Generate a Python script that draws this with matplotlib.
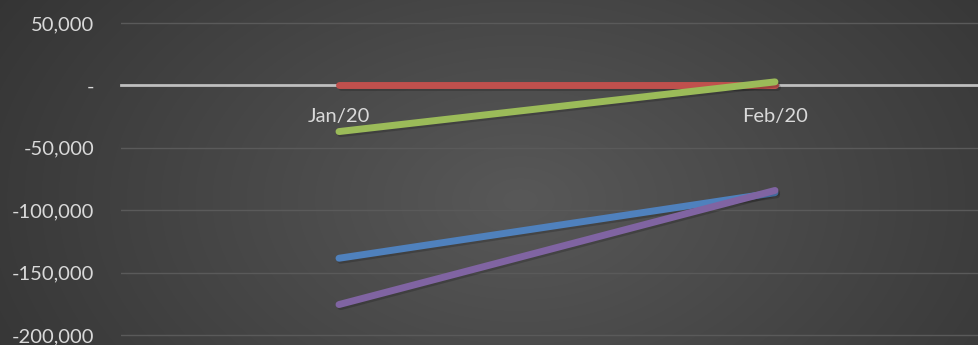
# -*- coding: utf-8 -*-

import numpy as np
import matplotlib
matplotlib.use("Agg")
import matplotlib.pyplot as plt
import matplotlib.patheffects as pe
from matplotlib.ticker import FuncFormatter

# data
months = ["Jan/20", "Feb/20"]
blue_vals = [-138500, -86000]
red_vals = [0, 0]
green_vals = [-37000, 2800]
purple_vals = [-175600, -84200]

series = [
    (blue_vals, "#4F81BD"),
    (red_vals, "#C0504D"),
    (green_vals, "#9BBB59"),
    (purple_vals, "#8064A2"),
]

plt.rcParams["font.family"] = ["Lato", "DejaVu Sans"]

fig = plt.figure(figsize=(9.79, 3.45), dpi=100)

# radial gradient background
bg = fig.add_axes([0, 0, 1, 1])
yy, xx = np.mgrid[0:345, 0:979]
r = np.sqrt(((xx - 520) / 650.0) ** 2 + ((yy - 200) / 420.0) ** 2)
r = np.clip(r, 0, 1)
inner = np.array([0x58, 0x58, 0x58]) / 255.0
outer = np.array([0x32, 0x32, 0x32]) / 255.0
img = inner[None, None, :] * (1 - r[..., None]) + outer[None, None, :] * r[..., None]
bg.imshow(img, aspect="auto", extent=[0, 1, 0, 1])
bg.axis("off")

ax = fig.add_axes([121 / 979, 0, 872 / 979, 1])
ax.set_facecolor("none")

x = np.arange(len(months))
shadow = [pe.SimpleLineShadow(offset=(1.2, -1.5), alpha=0.18, shadow_color="black"), pe.Normal()]
for vals, col in series:
    ax.plot(x, vals, color=col, lw=5, solid_capstyle="round", zorder=3, path_effects=shadow)

ax.set_xlim(-0.5, 1.5)
ax.set_ylim(-208000, 68400)
ax.set_yticks([50000, 0, -50000, -100000, -150000, -200000])


def fmt(v, pos):
    if v == 0:
        return "-"
    return f"{int(v):,}"


ax.yaxis.set_major_formatter(FuncFormatter(fmt))
ax.grid(axis="y", color="#5A5A5A", lw=1)
ax.set_axisbelow(True)

for s in ["top", "right", "left"]:
    ax.spines[s].set_visible(False)
ax.spines["bottom"].set_position(("data", 0))
ax.spines["bottom"].set_color("#BFBFBF")
ax.spines["bottom"].set_linewidth(2)
ax.spines["bottom"].set_zorder(2)

ax.set_xticks(x)
ax.set_xticklabels(months)
ax.tick_params(axis="x", length=0, pad=16, labelsize=14.5, labelcolor="#D9D9D9")
ax.tick_params(axis="y", length=0, pad=19, labelsize=14.5, labelcolor="#D9D9D9")

fig.savefig("out.png", dpi=100)
plt.close()
